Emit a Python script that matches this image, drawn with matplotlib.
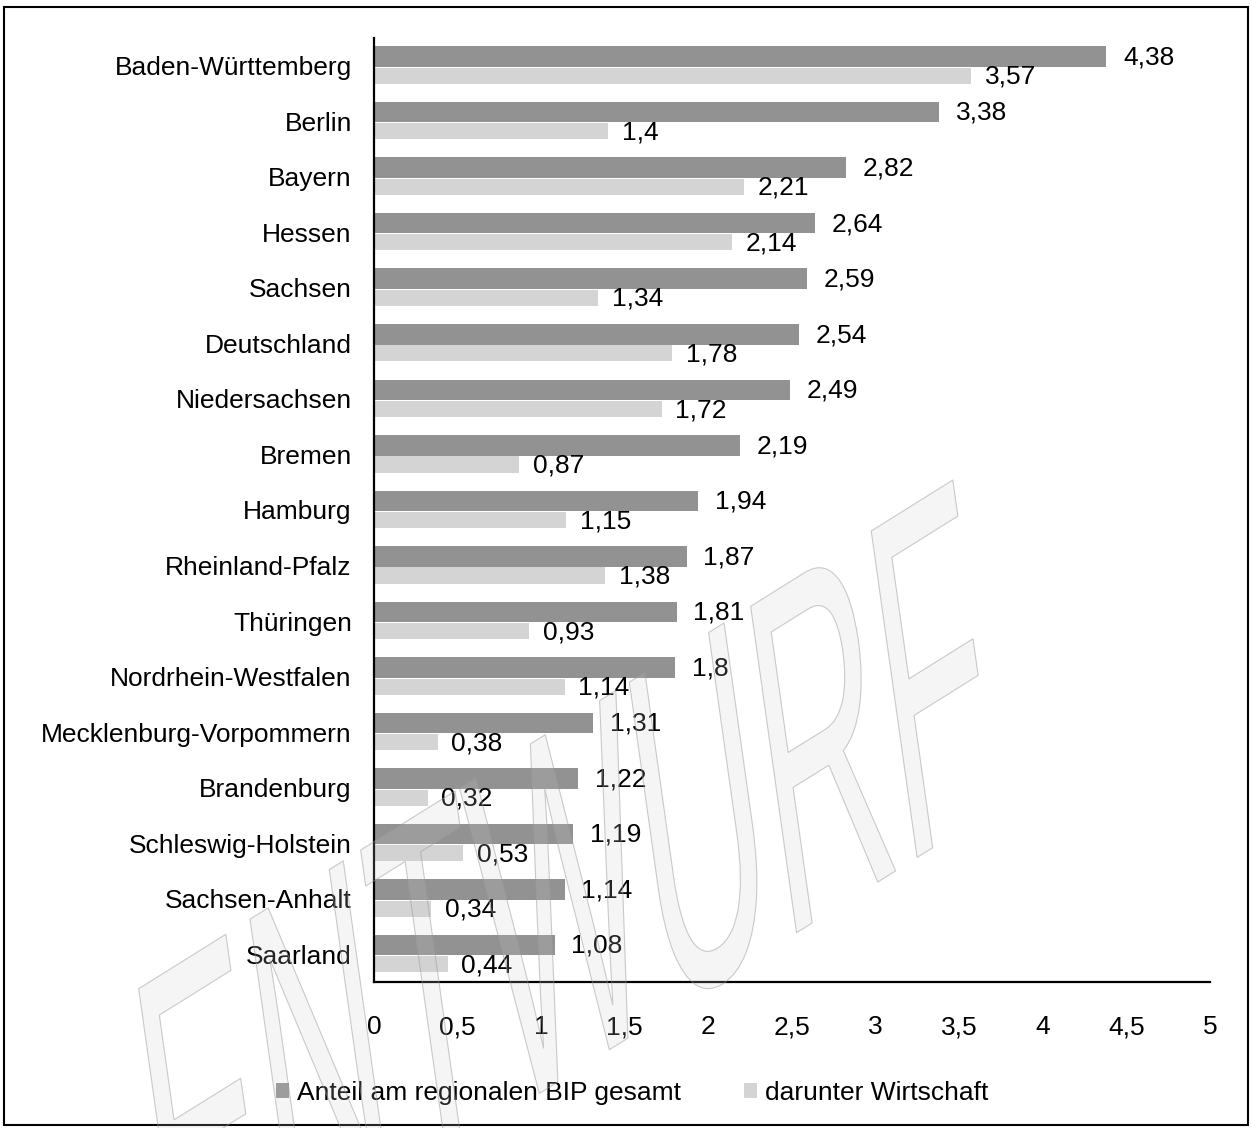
import numpy as np
import matplotlib
matplotlib.use("Agg")
import matplotlib.pyplot as plt
from matplotlib.patches import Patch, Rectangle, PathPatch
from matplotlib.textpath import TextPath
from matplotlib.font_manager import FontProperties
from matplotlib.transforms import Affine2D, IdentityTransform

plt.rcParams['font.family'] = ['Liberation Sans', 'DejaVu Sans']

# data (top to bottom as in the chart)
laender = ["Baden-Württemberg", "Berlin", "Bayern", "Hessen", "Sachsen",
           "Deutschland", "Niedersachsen", "Bremen", "Hamburg",
           "Rheinland-Pfalz", "Thüringen", "Nordrhein-Westfalen",
           "Mecklenburg-Vorpommern", "Brandenburg", "Schleswig-Holstein",
           "Sachsen-Anhalt", "Saarland"]
bip_gesamt = [4.38, 3.38, 2.82, 2.64, 2.59, 2.54, 2.49, 2.19, 1.94, 1.87,
              1.81, 1.8, 1.31, 1.22, 1.19, 1.14, 1.08]
wirtschaft = [3.57, 1.4, 2.21, 2.14, 1.34, 1.78, 1.72, 0.87, 1.15, 1.38,
              0.93, 1.14, 0.38, 0.32, 0.53, 0.34, 0.44]
xticks = [0, 0.5, 1, 1.5, 2, 2.5, 3, 3.5, 4, 4.5, 5]
legend_labels = ["Anteil am regionalen BIP gesamt", "darunter Wirtschaft"]

W, H = 1252, 1128
fig = plt.figure(figsize=(W / 100, H / 100), dpi=100)
ax = fig.add_axes([374 / W, 1 - 982 / H, (1210 - 374) / W, (982 - 38) / H])
ax.patch.set_alpha(0)

dark = '#929292'
light = '#d4d4d4'
fs = 19

y = np.arange(len(laender))
ax.barh(y - 0.165, bip_gesamt, height=0.37, color=dark, zorder=2)
ax.barh(y + 0.18, wirtschaft, height=0.29, color=light, zorder=2)


def fmt(v):
    return f"{v:g}".replace('.', ',')


for yi, v in zip(y, bip_gesamt):
    ax.annotate(fmt(v), (v, yi - 0.15), xytext=(12, 0), textcoords='offset points',
                ha='left', va='center', fontsize=fs)
for yi, v in zip(y, wirtschaft):
    ax.annotate(fmt(v), (v, yi + 0.2), xytext=(10, 0), textcoords='offset points',
                ha='left', va='center', fontsize=fs)

ax.set_xlim(0, 5)
ax.set_ylim(len(laender) - 0.5, -0.5)
ax.set_yticks(y)
ax.set_yticklabels(laender, fontsize=fs)
ax.set_xticks(xticks)
ax.set_xticklabels([fmt(t) for t in xticks], fontsize=fs)
ax.tick_params(axis='y', length=0, pad=16)
ax.tick_params(axis='x', length=0, pad=24)
for s in ['top', 'right']:
    ax.spines[s].set_visible(False)
for s in ['left', 'bottom']:
    ax.spines[s].set_color('black')
    ax.spines[s].set_linewidth(1.6)

handles = [Patch(facecolor=dark), Patch(facecolor=light)]
fig.legend(handles, legend_labels, loc='center', ncol=2, frameon=False,
           bbox_to_anchor=(632 / W, 1 - 1093 / H), fontsize=fs,
           handlelength=0.5, handleheight=0.5, handletextpad=0.3,
           columnspacing=2.4)

# "ENTWURF" watermark, skewed like the stamp
tp = TextPath((0, 0), "ENTWURF", size=100,
              prop=FontProperties(family=['Liberation Sans Narrow', 'Liberation Sans']))
ext = tp.get_extents()
length = 960
sx = length / ext.width
sy = 345 / 72.0
a1, a2 = np.radians(32), np.radians(98)
m = Affine2D(np.array([[np.cos(a1) * sx, np.cos(a2) * sy, 0],
                       [np.sin(a1) * sx, np.sin(a2) * sy, 0],
                       [0, 0, 1]]))
x_end, y_end = 985, H - 815
x0 = x_end - length * np.cos(a1)
y0 = y_end - length * np.sin(a1)
wm = PathPatch(tp, transform=m + Affine2D().translate(x0, y0) + IdentityTransform(),
               facecolor=(0.8, 0.8, 0.8, 0.18), edgecolor=(0.6, 0.6, 0.6, 0.5),
               linewidth=0.8, zorder=10)
fig.add_artist(wm)

# frame around the whole chart
fig.add_artist(Rectangle((4 / W, 3 / H), (1248 - 4) / W, (1125 - 7) / H,
                         transform=fig.transFigure, fill=False,
                         edgecolor='black', linewidth=1.5))

fig.savefig('out.png', dpi=100)
